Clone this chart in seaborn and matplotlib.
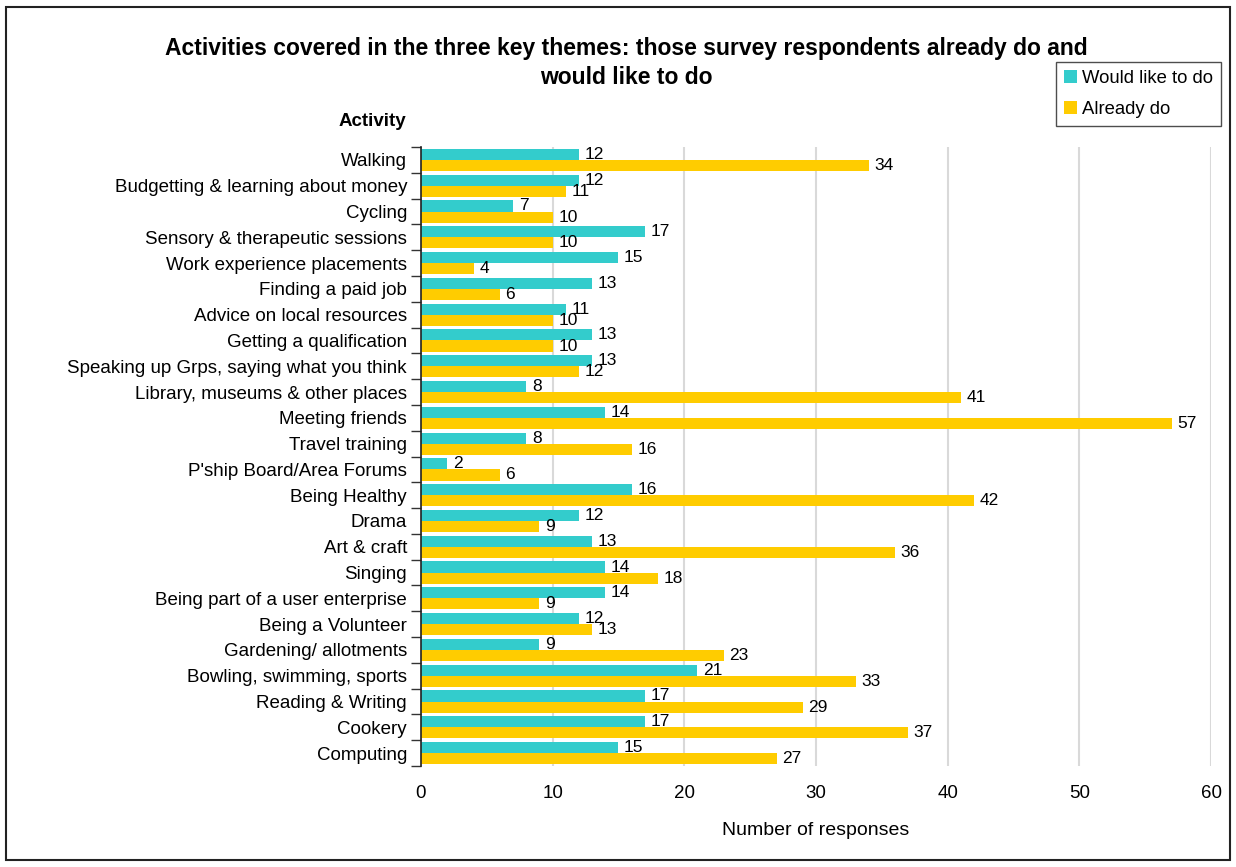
import numpy as np
import pandas as pd
import matplotlib
matplotlib.use("Agg")
import matplotlib.pyplot as plt
from matplotlib.patches import Rectangle
from matplotlib.ticker import FixedLocator
import seaborn as sns

activities = [
    "Walking", "Budgetting & learning about money", "Cycling",
    "Sensory & therapeutic sessions", "Work experience placements",
    "Finding a paid job", "Advice on local resources",
    "Getting a qualification", "Speaking up Grps, saying what you think",
    "Library, museums & other places", "Meeting friends", "Travel training",
    "P'ship Board/Area Forums", "Being Healthy", "Drama", "Art & craft",
    "Singing", "Being part of a user enterprise", "Being a Volunteer",
    "Gardening/ allotments", "Bowling, swimming, sports",
    "Reading & Writing", "Cookery", "Computing",
]
would_like = [12, 12, 7, 17, 15, 13, 11, 13, 13, 8, 14, 8, 2, 16, 12, 13,
              14, 14, 12, 9, 21, 17, 17, 15]
already_do = [34, 11, 10, 10, 4, 6, 10, 10, 12, 41, 57, 16, 6, 42, 9, 36,
              18, 9, 13, 23, 33, 29, 37, 27]
series_names = ["Would like to do", "Already do"]
colors = ["#33CCCC", "#FFCC00"]
x_ticks = [0, 10, 20, 30, 40, 50, 60]

df = pd.DataFrame({
    "Activity": activities * 2,
    "Responses": would_like + already_do,
    "Series": [series_names[0]] * len(activities) + [series_names[1]] * len(activities),
})

sns.set_theme(style="white")
plt.rcParams["font.family"] = ["Liberation Sans", "DejaVu Sans"]
plt.rcParams["text.color"] = "#000000"

fig = plt.figure(figsize=(12.36, 8.67), dpi=100)
ax = fig.add_axes([0.3406, 0.1165, 0.9798 - 0.3406, 0.8304 - 0.1165])

sns.barplot(data=df, y="Activity", x="Responses", hue="Series",
            order=activities, hue_order=series_names, palette=colors,
            orient="h", width=0.86, dodge=True, saturation=1,
            edgecolor="none", linewidth=0, legend=False, ax=ax)

for cont in ax.containers:
    ax.bar_label(cont, padding=4, fontsize=12.5, color="#000000")

ax.set_xlim(0, 60)
ax.set_ylim(len(activities) - 0.5, -0.5)
ax.set_xticks(x_ticks)
ax.set_xticklabels([str(t) for t in x_ticks], fontsize=13.5)
ax.tick_params(axis="x", length=0, pad=14, colors="#000000")
ax.tick_params(axis="y", which="major", length=0, pad=10, labelsize=13.5,
               colors="#000000")
ax.yaxis.set_minor_locator(FixedLocator(np.arange(-0.5, len(activities), 1.0)))
ax.tick_params(axis="y", which="minor", length=7, width=1, color="#333333",
               direction="out", left=True)
ax.grid(axis="x", color="#D9D9D9", linewidth=1.5)
ax.set_axisbelow(True)
for side in ["top", "right", "bottom"]:
    ax.spines[side].set_visible(False)
ax.spines["left"].set_color("#222222")
ax.spines["left"].set_linewidth(1.2)

ax.set_ylabel("")
ax.set_xlabel("Number of responses", fontsize=14, labelpad=14, color="#000000")

fig.text(0.507, 0.927,
         "Activities covered in the three key themes: those survey respondents already do and\nwould like to do",
         ha="center", va="center", fontsize=16.5, fontweight="bold",
         linespacing=1.35, color="#000000")
fig.text(0.301, 0.860, "Activity", ha="center", va="center",
         fontsize=13.5, fontweight="bold", color="#000000")

handles = [Rectangle((0, 0), 1, 1, facecolor=c, edgecolor="none") for c in colors]
leg = fig.legend(handles, series_names, loc="upper right",
                 bbox_to_anchor=(0.988, 0.929), fontsize=13.3, frameon=True,
                 fancybox=False, edgecolor="#222222", handlelength=0.7,
                 handleheight=0.7, handletextpad=0.25, labelspacing=0.75,
                 borderpad=0.45, borderaxespad=0)
leg.get_frame().set_linewidth(1.0)
for t in leg.get_texts():
    t.set_color("#000000")

fig.patches.append(Rectangle((0.005, 0.008), 0.990, 0.984,
                             transform=fig.transFigure, fill=False,
                             edgecolor="#222222", linewidth=1.5))

fig.savefig("out.png", dpi=100)
